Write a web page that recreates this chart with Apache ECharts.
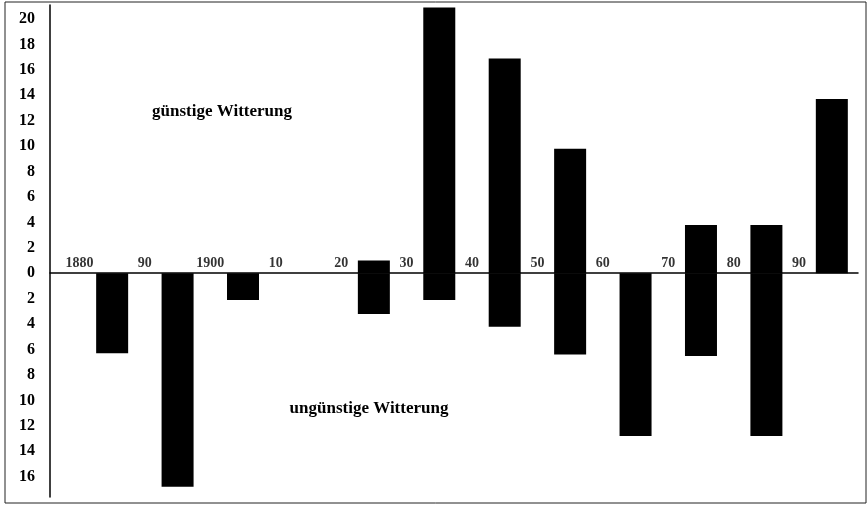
<!DOCTYPE html>
<html>
<head>
<meta charset="utf-8">
<script src="https://cdn.jsdelivr.net/npm/echarts@6/dist/echarts.min.js"></script>
<style>
html,body{margin:0;padding:0;background:#fff;}
#c{width:868px;height:506px;}
</style>
</head>
<body>
<div id="c"></div>
<script>
// Decades (bar centred in the middle of each decade)
const decades = [1880, 1890, 1900, 1910, 1920, 1930, 1940, 1950, 1960, 1970, 1980, 1990];
// Upper end of each bar (günstige Witterung)
const highs = [0, 0, 0, 0, 1, 20.9, 16.9, 9.8, 0, 3.8, 3.8, 13.7];
// Lower end of each bar (ungünstige Witterung, negative)
const lows = [-6.3, -16.8, -2.1, 0, -3.2, -2.1, -4.2, -6.4, -12.8, -6.5, -12.8, 0];
// Tick labels
const xTicks = [1880, 1890, 1900, 1910, 1920, 1930, 1940, 1950, 1960, 1970, 1980, 1990];
const xTickLabels = ['1880', '90', '1900', '10', '20', '30', '40', '50', '60', '70', '80', '90'];
const yTicks = [-16, -14, -12, -10, -8, -6, -4, -2, 0, 2, 4, 6, 8, 10, 12, 14, 16, 18, 20];
const upperText = 'günstige Witterung';
const lowerText = 'ungünstige Witterung';

const chart = echarts.init(document.getElementById('c'), null, {renderer: 'canvas'});
const font = '"Liberation Serif", "DejaVu Serif", serif';

chart.setOption({
  animation: false,
  backgroundColor: '#fff',
  grid: {left: 50, right: 10, top: 5, bottom: 9, containLabel: false},
  xAxis: {
    type: 'value',
    min: 1875.5,
    max: 1999,
    axisLine: {onZero: true, lineStyle: {color: '#000', width: 1.5}},
    axisTick: {show: false},
    splitLine: {show: false},
    axisLabel: {show: false}
  },
  yAxis: {
    type: 'value',
    min: -17.6,
    max: 21.1,
    axisLine: {show: true, onZero: false, lineStyle: {color: '#000', width: 1.5}},
    axisTick: {show: false},
    splitLine: {show: false},
    axisLabel: {
      customValues: yTicks,
      margin: 15,
      color: '#000',
      fontFamily: font,
      fontWeight: 'bold',
      fontSize: 16,
      formatter: v => String(Math.abs(v))
    }
  },
  series: [
    {
      type: 'bar', stack: 'r', barWidth: 32, z: 3,
      itemStyle: {color: '#000'},
      data: decades.map((d, i) => [d + 5, highs[i]])
    },
    {
      type: 'bar', stack: 'r', barWidth: 32, z: 3,
      itemStyle: {color: '#000'},
      data: decades.map((d, i) => [d + 5, lows[i]])
    },
    {
      // decade tick labels sitting on the zero line
      type: 'scatter', symbolSize: 0, silent: true, z: 4,
      data: xTicks.map((x, i) => ({value: [x, 0], name: xTickLabels[i]})),
      label: {
        show: true, position: 'top', distance: 3,
        formatter: p => p.name,
        color: '#000', fontFamily: font, fontWeight: 'bold', fontSize: 14
      }
    }
  ],
  graphic: [
    {type: 'rect', shape: {x: 5, y: 2, width: 861, height: 501}, style: {fill: null, stroke: '#222', lineWidth: 1}, silent: true},
    {type: 'text', x: 222, y: 112, style: {text: upperText, font: 'bold 17px ' + font, fill: '#000', align: 'center', verticalAlign: 'middle'}},
    {type: 'text', x: 369, y: 409, style: {text: lowerText, font: 'bold 17px ' + font, fill: '#000', align: 'center', verticalAlign: 'middle'}}
  ]
});
</script>
</body>
</html>
